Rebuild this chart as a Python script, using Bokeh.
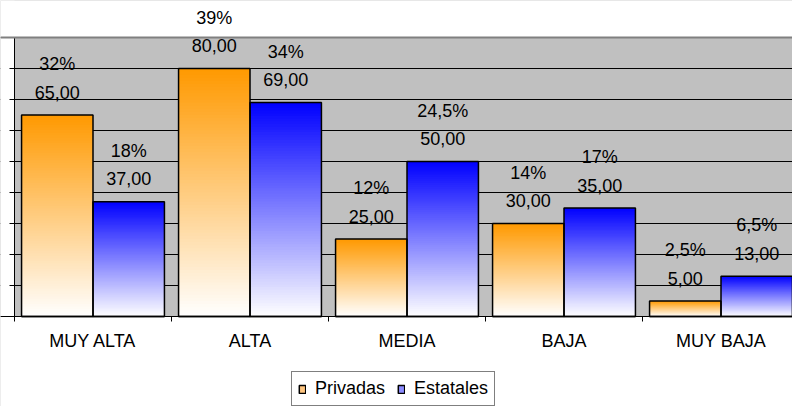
import numpy as np
from bokeh.plotting import figure
from bokeh.models import (ColumnDataSource, Range1d, FixedTicker, LabelSet,
                          Legend, LegendItem, BoxAnnotation, Span)
from bokeh.core.properties import value
from bokeh.embed import file_html
from bokeh.resources import INLINE

# ---------------- data ----------------
categories = ["MUY ALTA", "ALTA", "MEDIA", "BAJA", "MUY BAJA"]
privadas = [65.0, 80.0, 25.0, 30.0, 5.0]
estatales = [37.0, 69.0, 50.0, 35.0, 13.0]
privadas_pct = ["32%", "39%", "12%", "14%", "2,5%"]
estatales_pct = ["18%", "34%", "24,5%", "17%", "6,5%"]
series_names = ["Privadas", "Estatales"]
y_max = 90
y_step = 10

# ---------------- style ----------------
FONT = value("Liberation Sans")
FS = value("18px")
BAR_W = 0.455
ORANGE = (255, 153, 0)
BLUE = (0, 0, 255)
N_STEPS = 80
PX_PER_UNIT = 3.1      # vertical pixels per data unit
PX_PER_CAT = 157.0     # horizontal pixels per category
W, H = 792, 406
LEFT, TOP_PX, ZERO_PX = 14, 37, 316
TICK = 5

p = figure(width=W, height=H, output_backend="svg", toolbar_location=None,
           x_range=Range1d(-LEFT / PX_PER_CAT, (W - LEFT) / PX_PER_CAT),
           y_range=Range1d(-(H - ZERO_PX) / PX_PER_UNIT,
                           y_max + TOP_PX / PX_PER_UNIT),
           min_border_left=0, min_border_right=0, min_border_top=0,
           min_border_bottom=0)
p.background_fill_color = "#C0C0C0"
p.border_fill_color = "white"
p.outline_line_color = None
p.xaxis.visible = False
p.yaxis.visible = False

yt = list(range(0, y_max + 1, y_step))
p.ygrid.ticker = FixedTicker(ticks=yt)
p.ygrid.grid_line_color = "black"
p.ygrid.grid_line_width = 1
p.xgrid.grid_line_color = None

# white outside the plotting area
p.add_layout(BoxAnnotation(top=0, fill_color="white", fill_alpha=1,
                           line_color=None, level="underlay"))
p.add_layout(BoxAnnotation(bottom=y_max, fill_color="white", fill_alpha=1,
                           line_color=None, level="underlay"))
p.add_layout(BoxAnnotation(right=0, fill_color="white", fill_alpha=1,
                           line_color=None, level="underlay"))
p.add_layout(Span(location=y_max, dimension="width", line_color="#808080",
                  line_width=2))

# value axis: line and ticks (no labels)
p.segment(x0=[0], y0=[0], x1=[0], y1=[y_max], line_color="black",
          line_width=1)
p.segment(x0=[0] * len(yt), y0=yt, x1=[-TICK / PX_PER_CAT] * len(yt), y1=yt,
          line_color="black", line_width=1)


def mix(base, t):
    r = int(round(255 + (base[0] - 255) * t))
    g = int(round(255 + (base[1] - 255) * t))
    b = int(round(255 + (base[2] - 255) * t))
    return "#%02x%02x%02x" % (r, g, b)


def gradient_bars(xs, vals, base):
    left, right, top, bottom, color = [], [], [], [], []
    for k in range(N_STEPS - 1, -1, -1):
        t = (k + 0.5) / N_STEPS
        c = mix(base, t)
        for x, v in zip(xs, vals):
            left.append(x - BAR_W / 2)
            right.append(x + BAR_W / 2)
            bottom.append(0)
            top.append(v * (k + 1) / N_STEPS)
            color.append(c)
    src = ColumnDataSource(dict(left=left, right=right, top=top,
                                bottom=bottom, color=color))
    p.quad(left="left", right="right", top="top", bottom="bottom",
           fill_color="color", line_color=None, source=src)


centers = [i + 0.5 for i in range(len(categories))]
x_priv = [c - BAR_W / 2 for c in centers]
x_est = [c + BAR_W / 2 for c in centers]

gradient_bars(x_priv, privadas, ORANGE)
gradient_bars(x_est, estatales, BLUE)

for xs, vals, pcts in [(x_priv, privadas, privadas_pct),
                       (x_est, estatales, estatales_pct)]:
    src = ColumnDataSource(dict(
        x=xs, top=vals,
        vtxt=[("%.2f" % v).replace(".", ",") for v in vals],
        ptxt=pcts))
    p.vbar(x="x", top="top", width=BAR_W, fill_color=None,
           line_color="black", line_width=1.5, source=src)
    p.add_layout(LabelSet(x="x", y="top", text="vtxt", source=src,
                          y_offset=23, text_align="center",
                          text_baseline="middle", text_font=FONT,
                          text_font_size=FS, text_color="black"))
    p.add_layout(LabelSet(x="x", y="top", text="ptxt", source=src,
                          y_offset=51, text_align="center",
                          text_baseline="middle", text_font=FONT,
                          text_font_size=FS, text_color="black"))

# category axis: baseline, boundary ticks and labels
p.add_layout(Span(location=0, dimension="width", line_color="black",
                  line_width=1))
bounds_x = list(range(len(categories) + 1))
p.segment(x0=bounds_x, y0=[0] * len(bounds_x), x1=bounds_x,
          y1=[-TICK / PX_PER_UNIT] * len(bounds_x), line_color="black",
          line_width=1)
cat_src = ColumnDataSource(dict(x=centers, y=[0] * len(centers),
                                text=categories))
p.add_layout(LabelSet(x="x", y="y", text="text", source=cat_src,
                      y_offset=-24, text_align="center",
                      text_baseline="middle", text_font=FONT,
                      text_font_size=FS, text_color="black"))

# legend swatches (zero-height bars sitting on the baseline)
zeros = [0] * len(centers)
r1 = p.vbar(x=x_priv, top=zeros, bottom=zeros, width=BAR_W,
            fill_color="#ffc680", line_color="black", line_width=1.5)
r2 = p.vbar(x=x_est, top=zeros, bottom=zeros, width=BAR_W,
            fill_color="#8c8cff", line_color="black", line_width=1.5)
legend = Legend(items=[LegendItem(label=series_names[0], renderers=[r1]),
                       LegendItem(label=series_names[1], renderers=[r2])],
                orientation="horizontal", location=(277 + LEFT, 0),
                label_text_font="Liberation Sans", label_text_font_size="18px",
                label_text_color="black", glyph_width=8, glyph_height=10,
                label_standoff=9, spacing=12, padding=6, margin=0,
                border_line_color="black", border_line_width=1,
                background_fill_color="white", background_fill_alpha=1.0)
p.add_layout(legend, "center")

open("out.html", "w").write(file_html(p, INLINE))
